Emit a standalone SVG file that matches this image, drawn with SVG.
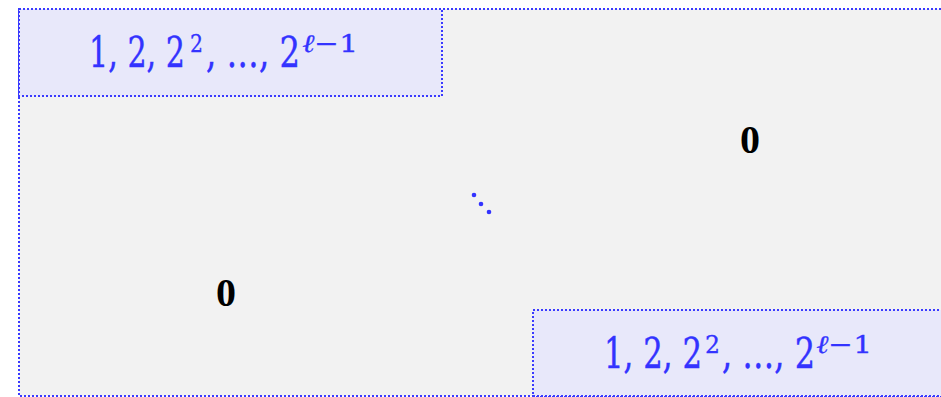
<svg xmlns="http://www.w3.org/2000/svg" width="941" height="397" viewBox="0 0 941 397">
<style>
.box{stroke:#3a3aff;stroke-width:2;stroke-dasharray:2 2}
.m{font-family:"DejaVu Serif","Liberation Serif",serif;fill:#3333ff;stroke:#3333ff;stroke-width:0.4;font-size:42px}
.sup{font-family:"DejaVu Serif","Liberation Serif",serif;fill:#3333ff;stroke:#3333ff;stroke-width:0.3;font-size:25px}
.z{font-family:"Liberation Serif",serif;font-weight:bold;font-size:40px;fill:#000;text-anchor:middle}
</style>
<rect width="941" height="397" fill="#ffffff"/>
<g id="matrix">
<rect class="box" x="19" y="9" width="930" height="387" fill="#f2f2f2"/>
</g>
<g id="block-top">
<rect class="box" x="19" y="9" width="423" height="87" fill="#e8e8fa"/>
<text class="m" x="89" y="67" textLength="96" lengthAdjust="spacingAndGlyphs">1, 2, 2</text>
<text class="sup" x="190" y="52" textLength="13" lengthAdjust="spacingAndGlyphs">2</text>
<text class="m" x="206" y="67" textLength="94" lengthAdjust="spacingAndGlyphs">, …, 2</text>
<text class="sup" x="302" y="52" textLength="56" lengthAdjust="spacingAndGlyphs"><tspan font-style="italic">ℓ</tspan>−1</text>
</g>
<g id="block-bottom">
<rect class="box" x="533" y="310" width="416" height="86" fill="#e8e8fa"/>
<text class="m" x="604" y="368" textLength="98" lengthAdjust="spacingAndGlyphs">1, 2, 2</text>
<text class="sup" x="705" y="353" textLength="15" lengthAdjust="spacingAndGlyphs">2</text>
<text class="m" x="722" y="368" textLength="93" lengthAdjust="spacingAndGlyphs">, …, 2</text>
<text class="sup" x="816" y="353" textLength="56" lengthAdjust="spacingAndGlyphs"><tspan font-style="italic">ℓ</tspan>−1</text>
</g>
<g id="zero-top"><text class="z" x="750" y="153">0</text></g>
<g id="zero-bottom"><text class="z" x="226" y="306">0</text></g>
<g id="ddots" fill="#3333ff">
<circle cx="474" cy="195" r="2.3"/>
<circle cx="481" cy="204" r="2.3"/>
<circle cx="489" cy="212" r="2.3"/>
</g>
</svg>
